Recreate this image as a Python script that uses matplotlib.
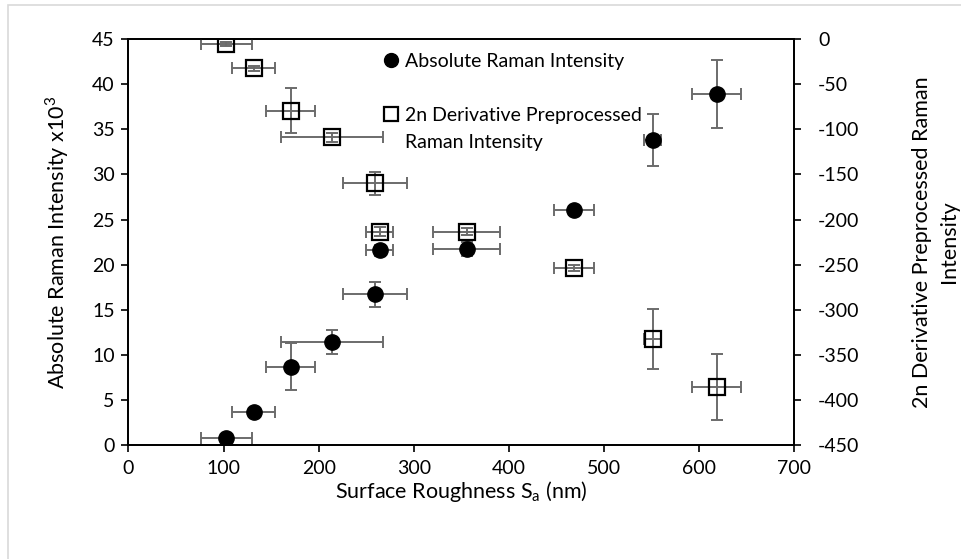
import matplotlib.pyplot as plt
from matplotlib.lines import Line2D
from matplotlib.patches import Rectangle

plt.rcParams['font.family'] = ['Lato', 'DejaVu Sans']
plt.rcParams['axes.unicode_minus'] = False

# surface roughness Sa (nm) with x error
sa = [103, 131.5, 170.5, 214, 259, 264, 355.5, 468, 551, 618.5]
sa_err = [27, 23, 26, 54, 33.5, 14, 35.5, 21, 9, 26]

# absolute Raman intensity (x10^3)
absolute = [0.8, 3.6, 8.7, 11.4, 16.7, 21.6, 21.7, 26.0, 33.8, 38.9]
absolute_err = [0.3, 0.4, 2.6, 1.3, 1.4, 0.6, 0.8, 0.5, 2.9, 3.8]

# 2n derivative preprocessed Raman intensity
deriv = [-5.5, -32.5, -79.5, -109, -160, -213.5, -213.5, -254, -332.5, -386]
deriv_err = [2, 3, 25, 5, 13, 5, 4, 3, 33, 36.5]

err_color = '#6b6b6b'

fig = plt.figure(figsize=(9.61, 5.59), dpi=100)
fig.patches.append(Rectangle((8 / 961, -0.1), 1.2, 1 - 5 / 559 + 0.1,
                             transform=fig.transFigure, fill=False,
                             edgecolor='#d9d9d9', linewidth=1.2))
ax = fig.add_axes([0.1337, 0.204, 0.8265 - 0.1337, 0.930 - 0.204])
ax2 = ax.twinx()

ax.errorbar(sa, absolute, xerr=sa_err, yerr=absolute_err, fmt='none',
            ecolor=err_color, elinewidth=1.4, capsize=4, capthick=1.4, zorder=2)
ax.plot(sa, absolute, 'o', color='black', markersize=11, linestyle='none', zorder=3)

ax2.errorbar(sa, deriv, xerr=sa_err, yerr=deriv_err, fmt='none',
             ecolor=err_color, elinewidth=1.4, capsize=4, capthick=1.4, zorder=2)
ax2.plot(sa, deriv, 's', markerfacecolor='none', markeredgecolor='black',
         markeredgewidth=1.6, markersize=11, linestyle='none', zorder=3)

ax.set_xlim(0, 700)
ax.set_ylim(0, 45)
ax2.set_ylim(-450, 0)
ax.set_xticks(range(0, 701, 100))
ax.set_yticks(range(0, 46, 5))
ax2.set_yticks(range(-450, 1, 50))

for a in (ax, ax2):
    for s in a.spines.values():
        s.set_linewidth(1.3)
        s.set_color('black')
    a.tick_params(direction='out', length=5, width=1.2, labelsize=14, colors='black')
ax.tick_params(axis='y', pad=5)
ax2.tick_params(axis='y', pad=12)
ax.tick_params(axis='x', pad=6)

ax.set_xlabel('Surface Roughness S$_\\mathregular{a}$ (nm)', fontsize=15.5, labelpad=1)
ax.set_ylabel('Absolute Raman Intensity x10$^\\mathregular{3}$', fontsize=15.5, labelpad=15)
ax2.set_ylabel('2n Derivative Preprocessed Raman\nIntensity', fontsize=15.5,
               labelpad=38, linespacing=1.45)

# legend: blank rows keep the square level with the first line of its label
blank = Line2D([], [], linestyle='none', marker='none')
handles = [
    Line2D([], [], marker='o', color='black', linestyle='none', markersize=10),
    blank,
    Line2D([], [], marker='s', markerfacecolor='none', markeredgecolor='black',
           markeredgewidth=1.6, linestyle='none', markersize=10),
    blank,
]
ax.legend(handles, ['Absolute Raman Intensity', ' ',
                    '2n Derivative Preprocessed', 'Raman Intensity'],
          loc='upper left', bbox_to_anchor=(0.365, 0.985), frameon=False,
          fontsize=14, handletextpad=0.1, handlelength=1.2,
          labelspacing=0.52, borderaxespad=0)

fig.savefig('out.png', dpi=100)
